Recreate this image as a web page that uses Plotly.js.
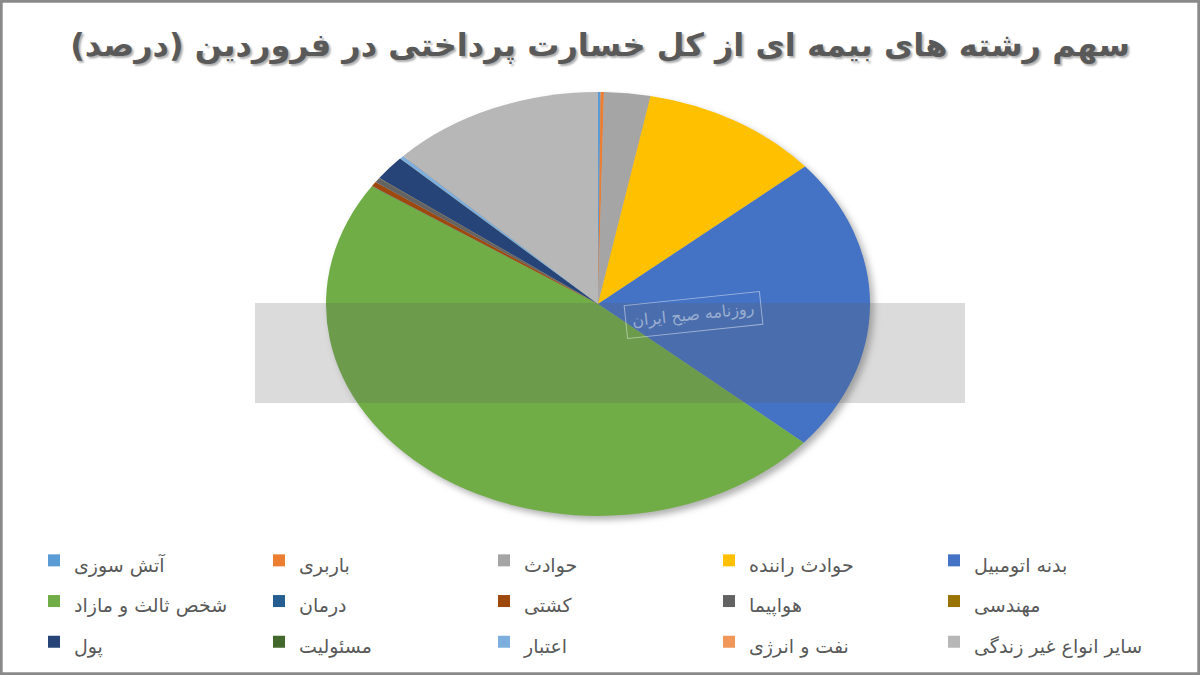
<!DOCTYPE html>
<html>
<head>
<meta charset="utf-8">
<script src="https://cdn.plot.ly/plotly-3.0.1.min.js"></script>
<style>
  html, body { margin: 0; padding: 0; background: #ffffff; }
  #chart { width: 1200px; height: 675px; }
</style>
</head>
<body>
<div id="chart"></div>
<script>
// Categories (insurance lines), in series order
const categories = [
  'آتش سوزی ',
  'باربری',
  'حوادث',
  'حوادث راننده',
  'بدنه اتومبیل',
  'شخص ثالث و مازاد',
  'درمان',
  'کشتی',
  'هواپیما',
  'مهندسی',
  'پول',
  'مسئولیت',
  'اعتبار',
  'نفت و انرژی',
  'سایر انواع غیر زندگی'
];

// Share of total paid claims (percent)
const shares = [0.15, 0.2, 2.75, 10.7, 22.6, 48.1, 0.02, 0.36, 0.36, 0.02, 1.9, 0.02, 0.25, 0.02, 12.7];

const sliceColors = [
  '#5B9BD5', '#ED7D31', '#A5A5A5', '#FFC000', '#4472C4', '#70AD47',
  '#255E91', '#9E480E', '#636363', '#997300', '#264478', '#43682B',
  '#7CAFDD', '#F1975A', '#B7B7B7'
];

const titleText = 'سهم رشته های بیمه ای از کل خسارت پرداختی در فروردین (درصد)';

// geometry of the (tilted) pie
const W = 1200, H = 675;
const CX = 598, CY = 304, RV = 212, RH = 272;

const legendLabels = categories.map(c => '<span style="font-size:19px">' + c + '</span>');

const trace = {
  type: 'pie',
  labels: legendLabels,
  values: shares,
  sort: false,
  direction: 'clockwise',
  rotation: 0,
  textinfo: 'none',
  hoverinfo: 'none',
  marker: { colors: sliceColors, line: { width: 0 } },
  domain: {
    x: [(CX - RV) / W, (CX + RV) / W],
    y: [(H - CY - RV) / H, (H - CY + RV) / H]
  },
  showlegend: true
};

const layout = {
  width: W,
  height: H,
  margin: { l: 0, r: 0, t: 0, b: 0, autoexpand: false },
  paper_bgcolor: '#ffffff',
  font: { family: 'DejaVu Sans, sans-serif', color: '#595959' },
  title: {
    text: titleText,
    x: 0.5,
    xanchor: 'center',
    xref: 'container',
    y: 1 - 45 / H,
    yanchor: 'middle',
    yref: 'container',
    font: {
      family: 'DejaVu Sans, sans-serif',
      size: 32,
      weight: 'bold',
      color: '#595959',
      shadow: '2px 2px 2px #b0b0b0'
    }
  },
  legend: {
    orientation: 'h',
    xref: 'container',
    yref: 'container',
    x: 34 / W,
    xanchor: 'left',
    y: 1 - 535 / H,
    yanchor: 'top',
    entrywidth: 180,
    entrywidthmode: 'pixels',
    traceorder: 'normal',
    font: { family: 'DejaVu Sans, sans-serif', size: 29, color: '#595959' },
    bgcolor: 'rgba(0,0,0,0)'
  },
  shapes: [
    {
      type: 'rect', xref: 'paper', yref: 'paper',
      x0: 255 / W, x1: 965 / W, y0: 1 - 403 / H, y1: 1 - 303 / H,
      fillcolor: 'rgba(90,90,90,0.22)', line: { width: 0 }, layer: 'above'
    },
    {
      type: 'rect', xref: 'paper', yref: 'paper',
      x0: 0.001, x1: 0.999, y0: 0.002, y1: 0.998,
      fillcolor: 'rgba(0,0,0,0)', line: { width: 3, color: '#8a8a8a' }, layer: 'above'
    }
  ],
  annotations: [
    {
      text: 'روزنامه صبح ایران',
      xref: 'paper', yref: 'paper',
      x: 693 / W, y: 1 - 315 / H,
      showarrow: false,
      textangle: -6,
      font: { family: 'DejaVu Sans, sans-serif', size: 16, color: 'rgba(255,255,255,0.45)' },
      bordercolor: 'rgba(255,255,255,0.45)',
      borderwidth: 1,
      borderpad: 6
    }
  ]
};

Plotly.newPlot('chart', [trace], layout, { displayModeBar: false, staticPlot: true }).then(function (gd) {
  // Excel draws this pie tilted; stretch the circular pie horizontally into the same ellipse
  const sx = RH / RV;
  const pl = gd.querySelector('.pielayer');
  if (pl) {
    pl.setAttribute('transform', 'matrix(' + sx + ',0,0,1,' + (CX * (1 - sx)) + ',0)');
    pl.style.filter = 'drop-shadow(3px 4px 3px rgba(0,0,0,0.30))';
  }
});
</script>
</body>
</html>
